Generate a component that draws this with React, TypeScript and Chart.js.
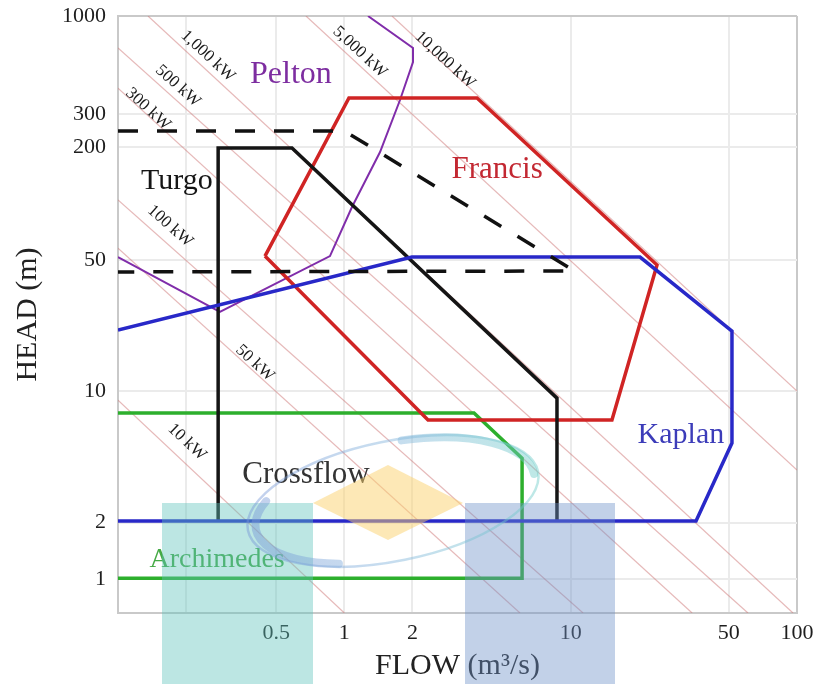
import React, { useEffect, useRef } from 'react';
import { Chart, registerables } from 'chart.js';

Chart.register(...registerables);

const FONT = "'Liberation Serif', 'Times New Roman', serif";

// Axis ticks
const flowTicks = [0.2, 0.5, 1, 2, 10, 50, 100];
const flowTickLabels = ['', '0.5', '1', '2', '10', '50', '100'];
const headTicks = [1, 2, 10, 50, 200, 300, 1000];
const headTickLabels = ['1', '2', '10', '50', '200', '300', '1000'];

// Turbine envelopes: flow (m3/s) and head (m) of each vertex
const peltonQ = [0.1, 0.282, 0.864, 1.081, 1.438, 1.762, 2.011, 2.011, 1.272];
const peltonH = [52.0, 26.5, 52.6, 96.0, 188.5, 356.8, 568.8, 675.3, 1000];

const turgoQ = [0.277, 0.277, 0.587, 8.7, 8.7];
const turgoH = [2.06, 198, 198, 9.21, 2.06];

const francisQ = [0.446, 1.048, 3.857, 24.07, 15.22, 2.343, 0.446];
const francisH = [52.6, 365.8, 365.8, 47.1, 7.04, 7.04, 52.6];

const kaplanQ = [0.1, 1.99, 20.25, 51.6, 51.6, 35.8, 0.1];
const kaplanH = [21.2, 52.0, 52.0, 20.97, 5.31, 2.04, 2.04];

const archimedesQ = [0.1, 3.74, 6.1, 6.1, 0.1];
const archimedesH = [7.67, 7.67, 4.41, 1.01, 1.01];

const dashedQ = [0.1, 1.0, 10.4, 0.1];
const dashedH = [244, 244, 43.8, 43.3];

// Constant power lines (end points) and their labels
const powerLabels = ['10 kW', '50 kW', '100 kW', '300 kW', '500 kW', '1,000 kW', '5,000 kW', '10,000 kW'];
const powerStartQ = [0.1, 0.1, 0.1, 0.1, 0.1, 0.1357, 0.677, 1.624];
const powerStartH = [8.99, 58.0, 104.6, 413, 675, 1000, 1000, 1000];
const powerEndQ = [1.0, 5.97, 11.34, 34.4, 60.7, 96.0, 100, 100];
const powerEndH = [0.66, 0.66, 0.66, 0.66, 0.66, 0.66, 3.81, 10.04];
const powerLabelQ = [0.2018, 0.403, 0.1698, 0.1357, 0.184, 0.2497, 1.173, 2.785];
const powerLabelH = [5.37, 14.16, 76.0, 319.6, 423.6, 612, 643, 583];

// Turbine names
const turbineNames = ['Pelton', 'Turgo', 'Francis', 'Kaplan', 'Crossflow', 'Archimedes'];
const turbineNameQ = [0.581, 0.182, 4.73, 30.7, 0.677, 0.274];
const turbineNameH = [484.8, 132, 151, 5.85, 3.58, 1.263];

const COLORS = {
  pelton: 'rgb(128,45,170)',
  turgo: '#151515',
  francis: 'rgb(208,36,36)',
  kaplan: 'rgb(40,40,200)',
  archimedes: 'rgb(45,175,45)',
  power: 'rgba(205,115,115,0.5)',
};
const nameColors = ['rgb(125,45,160)', '#151515', 'rgb(195,40,50)', 'rgb(60,60,185)', '#333333', 'rgb(70,170,70)'];

const pts = (qs: number[], hs: number[]) => qs.map((q, i) => ({ x: q, y: hs[i] }));

export default function App() {
  const ref = useRef<HTMLCanvasElement>(null);

  useEffect(() => {
    const canvas = ref.current;
    if (!canvas) return;

    const lineDs = (label: string, qs: number[], hs: number[], color: string, width: number, dash: number[] = []) => ({
      label,
      data: pts(qs, hs),
      showLine: true,
      borderColor: color,
      backgroundColor: color,
      borderWidth: width,
      borderDash: dash,
      pointRadius: 0,
      pointHoverRadius: 0,
      fill: false,
      tension: 0,
    });

    const datasets: any[] = [
      lineDs('dashed', dashedQ, dashedH, '#111', 3.5, [20, 19]),
      lineDs('Kaplan', kaplanQ, kaplanH, COLORS.kaplan, 3.5),
      lineDs('Turgo', turgoQ, turgoH, COLORS.turgo, 3.5),
      lineDs('Francis', francisQ, francisH, COLORS.francis, 3.5),
      lineDs('Archimedes', archimedesQ, archimedesH, COLORS.archimedes, 3.5),
      lineDs('Pelton', peltonQ, peltonH, COLORS.pelton, 2),
      ...powerLabels.map((l, i) =>
        lineDs(l, [powerStartQ[i], powerEndQ[i]], [powerStartH[i], powerEndH[i]], COLORS.power, 1.2)
      ),
    ];

    const textPlugin = {
      id: 'chartText',
      afterDatasetsDraw(chart: any) {
        const { ctx, scales } = chart;
        const x = scales.x;
        const y = scales.y;
        ctx.save();
        powerLabels.forEach((t, i) => {
          const x1 = x.getPixelForValue(powerStartQ[i]);
          const y1 = y.getPixelForValue(powerStartH[i]);
          const x2 = x.getPixelForValue(powerEndQ[i]);
          const y2 = y.getPixelForValue(powerEndH[i]);
          const ang = Math.atan2(y2 - y1, x2 - x1);
          const px = x.getPixelForValue(powerLabelQ[i]);
          const py = y.getPixelForValue(powerLabelH[i]);
          ctx.save();
          ctx.translate(px, py);
          ctx.rotate(ang);
          ctx.font = `17px ${FONT}`;
          ctx.fillStyle = '#1a1a1a';
          ctx.textAlign = 'center';
          ctx.textBaseline = 'middle';
          ctx.fillText(t, 0, 0);
          ctx.restore();
        });
        const sizes = [32, 30, 31, 30, 31, 28];
        turbineNames.forEach((t, i) => {
          ctx.font = `${sizes[i]}px ${FONT}`;
          ctx.fillStyle = nameColors[i];
          ctx.textAlign = 'center';
          ctx.textBaseline = 'middle';
          ctx.fillText(t, x.getPixelForValue(turbineNameQ[i]), y.getPixelForValue(turbineNameH[i]));
        });
        ctx.restore();
      },
    };

    // semi-transparent logo watermark lying over the picture
    const watermarkPlugin = {
      id: 'watermark',
      afterDraw(chart: any) {
        const ctx = chart.ctx;
        ctx.save();
        ctx.globalAlpha = 0.42;
        ctx.fillStyle = 'rgb(95,195,188)';
        ctx.fillRect(162, 503, 151, 181);
        ctx.fillStyle = 'rgb(110,145,200)';
        ctx.fillRect(465, 503, 150, 181);
        ctx.globalAlpha = 0.5;
        ctx.fillStyle = 'rgb(252,210,110)';
        ctx.beginPath();
        ctx.moveTo(313, 503);
        ctx.lineTo(388, 465);
        ctx.lineTo(463, 503);
        ctx.lineTo(388, 540);
        ctx.closePath();
        ctx.fill();
        const cx = 393, cy = 501, rot = -0.2;
        const grad = ctx.createLinearGradient(245, 0, 540, 0);
        grad.addColorStop(0, 'rgb(120,150,215)');
        grad.addColorStop(0.5, 'rgb(130,180,220)');
        grad.addColorStop(1, 'rgb(110,205,200)');
        ctx.strokeStyle = grad;
        ctx.globalAlpha = 0.45;
        ctx.lineWidth = 2.5;
        ctx.beginPath();
        ctx.ellipse(cx, cy, 148, 60, rot, 0, Math.PI * 2);
        ctx.stroke();
        ctx.lineWidth = 8;
        ctx.lineCap = 'round';
        ctx.beginPath();
        ctx.ellipse(cx + 4, cy, 144, 57, rot, Math.PI * 0.66, Math.PI * 1.15);
        ctx.stroke();
        ctx.beginPath();
        ctx.ellipse(cx - 2, cy + 2, 146, 60, rot, Math.PI * 1.55, Math.PI * 2.0);
        ctx.stroke();
        ctx.restore();
      },
    };

    const gridColor = '#ebebeb';
    const edgeColor = '#c9c9c9';

    const chart = new Chart(canvas, {
      type: 'scatter',
      data: { datasets },
      options: {
        responsive: false,
        animation: false,
        devicePixelRatio: 1,
        events: [],
        layout: { padding: { top: 16, right: 23, left: 0, bottom: 0 } },
        plugins: {
          legend: { display: false },
          tooltip: { enabled: false },
        },
        scales: {
          x: {
            type: 'logarithmic',
            position: 'bottom',
            min: 0.1,
            max: 100,
            afterBuildTicks: (s: any) => {
              s.ticks = flowTicks.map((v) => ({ value: v }));
            },
            afterFit: (s: any) => {
              s.height = 71;
              s.paddingLeft = 0;
              s.paddingRight = 0;
            },
            ticks: {
              autoSkip: false,
              maxRotation: 0,
              padding: 7,
              color: '#1e1e1e',
              font: { family: FONT, size: 22 },
              callback: (v: any) => {
                const i = flowTicks.indexOf(Number(v));
                return i >= 0 ? flowTickLabels[i] : '';
              },
            },
            grid: {
              drawTicks: false,
              color: (c: any) => (c.tick && c.tick.value === 100 ? edgeColor : gridColor),
              lineWidth: 2,
            },
            border: { color: edgeColor, width: 2 },
            title: {
              display: true,
              text: 'FLOW (m³/s)',
              color: '#222',
              font: { family: FONT, size: 30 },
              padding: { top: 0, bottom: 0 },
            },
          },
          y: {
            type: 'logarithmic',
            position: 'left',
            min: 0.66,
            max: 1000,
            afterBuildTicks: (s: any) => {
              s.ticks = headTicks.map((v) => ({ value: v }));
            },
            afterFit: (s: any) => {
              s.width = 118;
              s.paddingTop = 0;
              s.paddingBottom = 0;
            },
            ticks: {
              autoSkip: false,
              padding: 12,
              color: '#1e1e1e',
              font: { family: FONT, size: 22 },
              callback: (v: any) => {
                const i = headTicks.indexOf(Number(v));
                return i >= 0 ? headTickLabels[i] : '';
              },
            },
            grid: {
              drawTicks: false,
              color: (c: any) => (c.tick && c.tick.value === 1000 ? edgeColor : gridColor),
              lineWidth: 2,
            },
            border: { color: edgeColor, width: 2 },
            title: {
              display: true,
              text: 'HEAD (m)',
              color: '#222',
              font: { family: FONT, size: 30 },
              padding: { top: 10, bottom: 0 },
            },
          },
        },
      },
      plugins: [textPlugin, watermarkPlugin],
    } as any);

    return () => chart.destroy();
  }, []);

  return (
    <div style={{ position: 'absolute', left: 0, top: 0, width: 820, height: 684, background: '#fff' }}>
      <canvas ref={ref} width={820} height={684} style={{ display: 'block' }} />
    </div>
  );
}
